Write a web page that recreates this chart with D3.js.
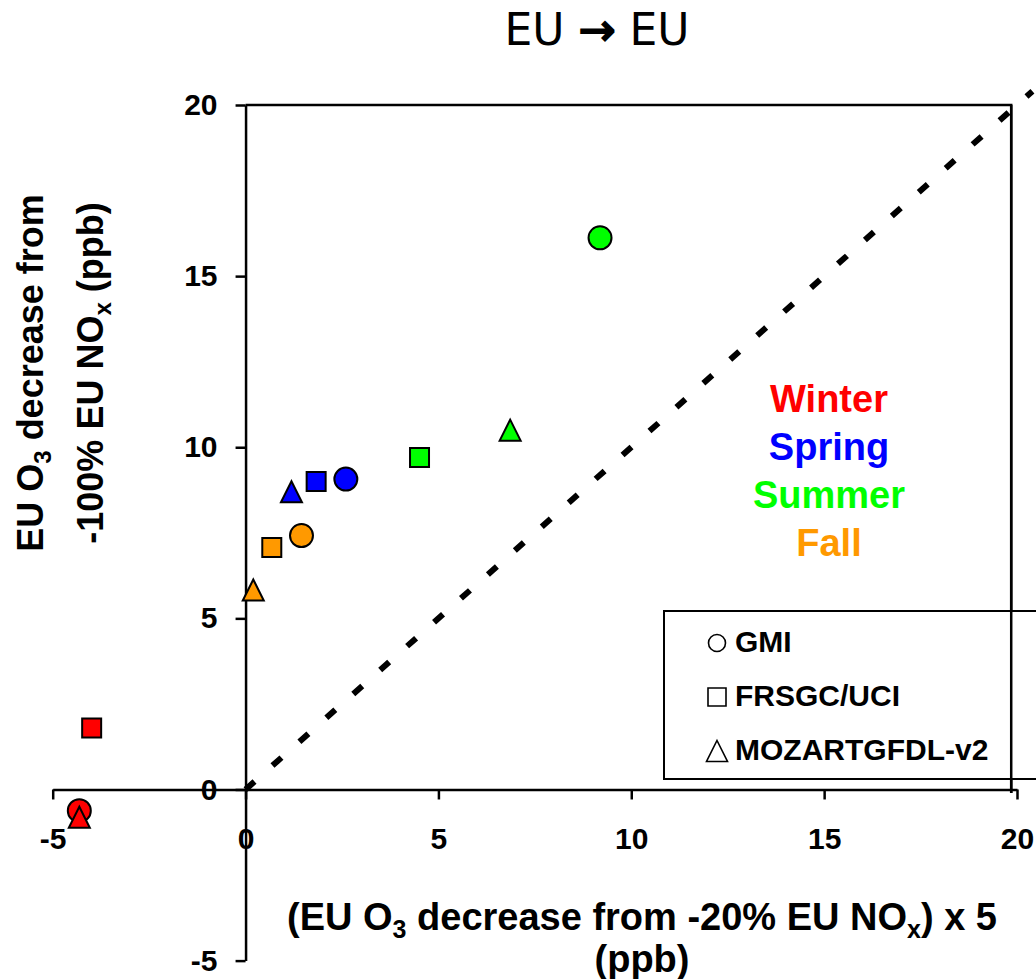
<!DOCTYPE html>
<html>
<head>
<meta charset="utf-8">
<script src="https://cdn.jsdelivr.net/npm/d3@7/dist/d3.min.js"></script>
<style>
  html, body { margin: 0; padding: 0; background: #fff; }
  svg { display: block; }
  text { font-family: "Liberation Sans", Arial, sans-serif; }
</style>
</head>
<body>
<svg id="chart" width="1036" height="979"></svg>
<script>
// Seasons (colour key) and models (marker key)
const seasons = ["Winter", "Spring", "Summer", "Fall"];
const seasonColors = ["#ff0000", "#0000ff", "#00ff00", "#ff9900"];
const models = ["GMI", "FRSGC/UCI", "MOZARTGFDL-v2"];
const modelShapes = ["circle", "square", "triangle"];

// x: (EU O3 decrease from -20% EU NOx) x 5, y: EU O3 decrease from -100% EU NOx, per season
const gmiX    = [-4.31, 2.60, 9.19, 1.45];
const gmiY    = [-0.62, 9.07, 16.12, 7.42];
const frsgcX  = [-3.99, 1.83, 4.51, 0.68];
const frsgcY  = [1.80, 9.00, 9.70, 7.07];
const mozartX = [-4.31, 1.19, 6.86, 0.20];
const mozartY = [-0.81, 8.70, 10.50, 5.83];

const xTicks = [-5, 0, 5, 10, 15, 20];
const yTicks = [-5, 0, 5, 10, 15, 20];
const oneToOne = [0, 20.4];

const svg = d3.select("#chart");

const x = d3.scaleLinear().domain([-5, 20]).range([52.7, 1017]);
const y = d3.scaleLinear().domain([-5, 20]).range([960.6, 105]);

// Title
const title = svg.append("text")
  .attr("x", 597).attr("y", 45)
  .attr("text-anchor", "middle")
  .style("font-family", "'DejaVu Sans', sans-serif")
  .style("font-size", "44px");
title.append("tspan").text("EU ");
title.append("tspan").attr("stroke", "#000").attr("stroke-width", 2).text("\u2192");
title.append("tspan").text(" EU");

// Plot frame (top and right edges)
svg.append("path")
  .attr("d", `M${x(0)},${y(20)} H${x(19.85)} V${y(-0.1)}`)
  .attr("fill", "none").attr("stroke", "#000").attr("stroke-width", 2.5);

// 1:1 reference line
svg.append("line")
  .attr("x1", x(oneToOne[0])).attr("y1", y(oneToOne[0]))
  .attr("x2", x(oneToOne[1])).attr("y2", y(oneToOne[1]))
  .attr("stroke", "#000").attr("stroke-width", 6)
  .attr("stroke-dasharray", "12 24");

// Axes crossing at the origin
const fmt = d => String(d);
const xAxis = d3.axisBottom(x).tickValues(xTicks).tickFormat(fmt).tickSize(10).tickSizeOuter(0).tickPadding(28);
const yAxis = d3.axisLeft(y).tickValues(yTicks).tickFormat(fmt).tickSize(10).tickSizeOuter(0).tickPadding(18);

const gx = svg.append("g").attr("transform", `translate(0,${y(0)})`).call(xAxis);
const gy = svg.append("g").attr("transform", `translate(${x(0)},0)`).call(yAxis);
[gx, gy].forEach(g => {
  g.select(".domain").attr("stroke-width", 2.5);
  g.selectAll(".tick line").attr("stroke-width", 2.5);
  g.selectAll(".tick text")
    .style("font-family", "'Liberation Sans', Arial, sans-serif")
    .style("font-size", "30px").style("font-weight", "bold").attr("fill", "#000");
});

// Axis titles
const ylab = svg.append("g").attr("transform", "rotate(-90)")
  .style("font-size", "36px").style("font-weight", "bold");
const yl1 = ylab.append("text").attr("x", -373).attr("y", 43).attr("text-anchor", "middle");
yl1.append("tspan").text("EU O");
yl1.append("tspan").style("font-size", "24px").attr("dy", 8).text("3");
yl1.append("tspan").attr("dy", -8).text(" decrease from");
const yl2 = ylab.append("text").attr("x", -373).attr("y", 103).attr("text-anchor", "middle");
yl2.append("tspan").text("-100% EU NO");
yl2.append("tspan").style("font-size", "24px").attr("dy", 8).text("x");
yl2.append("tspan").attr("dy", -8).text(" (ppb)");

const xlab = svg.append("g").style("font-size", "38px").style("font-weight", "bold");
const xl1 = xlab.append("text").attr("x", 642).attr("y", 930).attr("text-anchor", "middle");
xl1.append("tspan").text("(EU O");
xl1.append("tspan").style("font-size", "25px").attr("dy", 8).text("3");
xl1.append("tspan").attr("dy", -8).text(" decrease from -20% EU NO");
xl1.append("tspan").style("font-size", "25px").attr("dy", 8).text("x");
xl1.append("tspan").attr("dy", -8).text(") x 5");
xlab.append("text").attr("x", 642).attr("y", 972).attr("text-anchor", "middle").text("(ppb)");

// Marker symbols
function symbolPath(shape, s) {
  if (shape === "circle") return d3.symbol(d3.symbolCircle, Math.PI * (s / 2) ** 2)();
  if (shape === "square") return d3.symbol(d3.symbolSquare, s * s)();
  const h = s;
  return `M0,${-h / 2}L${s / 2},${h / 2}L${-s / 2},${h / 2}Z`;
}

const modelXs = [gmiX, frsgcX, mozartX];
const modelYs = [gmiY, frsgcY, mozartY];
const markerSize = { circle: 23, square: 19, triangle: 21 };

models.forEach((m, mi) => {
  const pts = seasons.map((s, si) => ({ x: modelXs[mi][si], y: modelYs[mi][si], color: seasonColors[si] }));
  svg.append("g").selectAll("path").data(pts).join("path")
    .attr("transform", d => `translate(${x(d.x)},${y(d.y)})`)
    .attr("d", symbolPath(modelShapes[mi], markerSize[modelShapes[mi]]))
    .attr("fill", d => d.color)
    .attr("stroke", "#000").attr("stroke-width", 2);
});

// Season colour key
svg.append("g").selectAll("text").data(seasons).join("text")
  .attr("x", 829).attr("y", (d, i) => 412 + i * 48)
  .attr("text-anchor", "middle")
  .style("font-size", "38px").style("font-weight", "bold")
  .attr("fill", (d, i) => seasonColors[i])
  .text(d => d);

// Model marker key
const legend = svg.append("g");
legend.append("rect")
  .attr("x", 664).attr("y", 611).attr("width", 400).attr("height", 168)
  .attr("fill", "#fff").attr("stroke", "#000").attr("stroke-width", 2);
const legendSize = { circle: 17, square: 18, triangle: 21 };
models.forEach((m, i) => {
  const cy = 643 + i * 54;
  legend.append("path")
    .attr("transform", `translate(717,${cy})`)
    .attr("d", symbolPath(modelShapes[i], legendSize[modelShapes[i]]))
    .attr("fill", "none").attr("stroke", "#000").attr("stroke-width", 1.6);
  legend.append("text")
    .attr("x", 735).attr("y", cy + 9)
    .style("font-size", "30px").style("font-weight", "bold")
    .text(m);
});

// Keep the right frame edge above the key box
svg.append("line")
  .attr("x1", x(19.85)).attr("x2", x(19.85))
  .attr("y1", y(20)).attr("y2", y(-0.1))
  .attr("stroke", "#000").attr("stroke-width", 2.5);
</script>
</body>
</html>
